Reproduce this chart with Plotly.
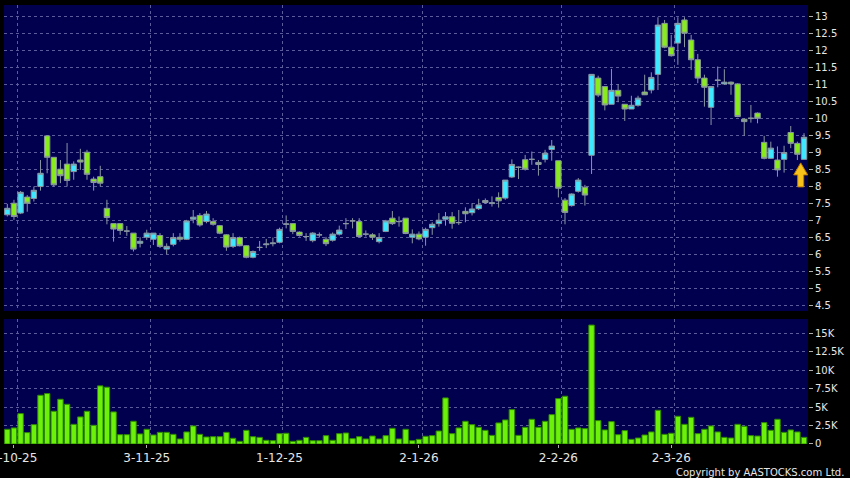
import plotly.graph_objects as go

# trading days shown on the chart (30 Sep 2025 .. 30 Mar 2026)
dates = [
    "2025-09-30",
    "2025-10-02", "2025-10-03", "2025-10-06", "2025-10-08", "2025-10-09", "2025-10-10",
    "2025-10-13", "2025-10-14", "2025-10-15", "2025-10-16", "2025-10-17", "2025-10-20",
    "2025-10-21", "2025-10-22", "2025-10-23", "2025-10-24", "2025-10-27", "2025-10-28",
    "2025-10-30", "2025-10-31",
    "2025-11-03", "2025-11-04", "2025-11-05", "2025-11-06", "2025-11-07", "2025-11-10",
    "2025-11-11", "2025-11-12", "2025-11-13", "2025-11-14", "2025-11-17", "2025-11-18",
    "2025-11-19", "2025-11-20", "2025-11-21", "2025-11-24", "2025-11-25", "2025-11-26",
    "2025-11-27", "2025-11-28",
    "2025-12-01", "2025-12-02", "2025-12-03", "2025-12-04", "2025-12-05", "2025-12-08",
    "2025-12-09", "2025-12-10", "2025-12-11", "2025-12-12", "2025-12-15", "2025-12-16",
    "2025-12-17", "2025-12-18", "2025-12-19", "2025-12-22", "2025-12-23", "2025-12-24",
    "2025-12-29", "2025-12-30", "2025-12-31",
    "2026-01-02", "2026-01-05", "2026-01-06", "2026-01-07", "2026-01-08", "2026-01-09",
    "2026-01-12", "2026-01-13", "2026-01-14", "2026-01-15", "2026-01-16", "2026-01-19",
    "2026-01-20", "2026-01-21", "2026-01-22", "2026-01-23", "2026-01-26", "2026-01-27",
    "2026-01-28", "2026-01-29", "2026-01-30",
    "2026-02-02", "2026-02-03", "2026-02-04", "2026-02-05", "2026-02-06", "2026-02-09",
    "2026-02-10", "2026-02-11", "2026-02-12", "2026-02-13", "2026-02-16", "2026-02-20",
    "2026-02-23", "2026-02-24", "2026-02-25", "2026-02-26", "2026-02-27",
    "2026-03-02", "2026-03-03", "2026-03-04", "2026-03-05", "2026-03-06", "2026-03-09",
    "2026-03-10", "2026-03-11", "2026-03-12", "2026-03-13", "2026-03-16", "2026-03-17",
    "2026-03-18", "2026-03-19", "2026-03-20", "2026-03-23", "2026-03-24", "2026-03-25",
    "2026-03-26", "2026-03-27", "2026-03-30",
]

opens = [
    7.18, 7.52, 7.23, 7.70, 7.66, 8.01, 9.50, 8.87, 8.52, 8.67, 8.45, 8.79, 9.02, 8.23, 8.30,
    7.37, 6.92, 6.92, 6.70, 6.64, 6.34, 6.52, 6.46, 6.57, 6.17, 6.31, 6.52, 6.46, 7.05, 7.16,
    6.98, 6.98, 6.86, 6.59, 6.25, 6.51, 6.27, 5.93, 6.22, 6.30, 6.33, 6.37, 6.90, 6.92, 6.67,
    6.54, 6.42, 6.59, 6.46, 6.43, 6.61, 6.92, 7.00, 6.98, 6.61, 6.59, 6.39, 6.69, 7.08, 6.98,
    7.08, 6.52, 6.61, 6.52, 6.80, 6.92, 7.05, 7.12, 6.95, 7.28, 7.24, 7.36, 7.60, 7.51, 7.69,
    7.67, 8.29, 8.57, 8.80, 8.81, 8.72, 8.81, 9.10, 8.77, 7.61, 7.45, 7.87, 7.99, 8.93, 11.20,
    10.95, 10.43, 10.84, 10.43, 10.29, 10.40, 10.79, 10.85, 11.31, 12.81, 12.11, 12.23, 12.91, 12.32, 11.74,
    11.20, 10.34, 11.13, 11.03, 11.08, 11.03, 9.99, 10.01, 10.17, 9.31, 8.84, 8.79, 8.81, 9.60, 9.28,
    8.81,
]
highs = [
    7.50, 7.62, 7.88, 7.76, 8.01, 8.79, 9.52, 8.87, 8.79, 9.29, 8.75, 9.12, 9.09, 8.30, 8.62,
    7.62, 6.92, 6.92, 6.85, 6.64, 6.52, 6.74, 6.64, 6.64, 6.34, 6.64, 6.64, 7.03, 7.32, 7.23,
    7.29, 7.08, 6.88, 6.61, 6.64, 6.54, 6.29, 6.13, 6.41, 6.47, 6.51, 6.80, 7.16, 6.93, 6.69,
    6.64, 6.67, 6.66, 6.53, 6.66, 6.86, 7.08, 7.08, 7.08, 6.72, 6.64, 6.64, 7.03, 7.29, 7.13,
    7.08, 6.75, 6.69, 6.80, 6.96, 7.23, 7.26, 7.26, 7.32, 7.40, 7.52, 7.65, 7.66, 7.72, 7.84,
    8.20, 8.81, 8.60, 8.94, 9.04, 8.79, 9.09, 9.38, 8.77, 7.67, 7.81, 8.26, 8.06, 11.31, 11.27,
    10.95, 11.47, 11.02, 10.43, 10.68, 10.68, 11.30, 11.37, 12.99, 12.91, 12.47, 12.99, 12.99, 12.47, 11.91,
    11.30, 10.95, 11.54, 11.46, 11.10, 11.05, 10.02, 10.41, 10.19, 9.50, 9.33, 9.19, 9.21, 9.79, 9.33,
    9.58,
]
lows = [
    7.13, 7.03, 7.20, 7.27, 7.57, 7.89, 8.40, 8.01, 8.11, 8.01, 8.21, 8.50, 8.21, 7.89, 8.01,
    6.90, 6.39, 6.59, 6.56, 6.10, 6.22, 6.44, 6.29, 6.20, 6.02, 6.25, 6.39, 6.44, 6.93, 6.83,
    6.93, 6.86, 6.61, 6.12, 6.20, 6.25, 5.90, 5.90, 6.12, 6.20, 6.25, 6.34, 6.78, 6.61, 6.54,
    6.41, 6.37, 6.51, 6.26, 6.39, 6.57, 6.76, 6.78, 6.51, 6.54, 6.44, 6.34, 6.67, 6.88, 6.83,
    6.61, 6.34, 6.43, 6.27, 6.59, 6.83, 6.86, 6.77, 6.88, 6.96, 7.16, 7.32, 7.50, 7.42, 7.39,
    7.62, 8.26, 8.23, 8.48, 8.65, 8.33, 8.72, 8.77, 7.69, 6.90, 7.42, 7.83, 7.45, 8.38, 10.64,
    10.25, 10.43, 10.49, 9.94, 10.29, 10.36, 10.70, 10.75, 10.85, 12.08, 11.83, 11.59, 12.11, 11.44, 11.05,
    10.36, 9.82, 10.93, 11.00, 10.71, 10.05, 9.50, 9.89, 9.87, 8.81, 8.82, 8.30, 8.42, 9.14, 8.79,
    8.81,
]
closes = [
    7.37, 7.13, 7.84, 7.52, 7.90, 8.40, 8.87, 8.06, 8.33, 8.19, 8.67, 8.73, 8.37, 8.13, 8.11,
    7.10, 6.76, 6.72, 6.70, 6.17, 6.40, 6.64, 6.64, 6.25, 6.25, 6.51, 6.46, 7.00, 7.11, 6.88,
    7.20, 6.90, 6.64, 6.23, 6.51, 6.27, 5.93, 6.10, 6.22, 6.32, 6.35, 6.75, 6.91, 6.69, 6.57,
    6.54, 6.64, 6.59, 6.33, 6.61, 6.73, 6.92, 7.00, 6.54, 6.61, 6.52, 6.51, 7.00, 6.92, 6.98,
    6.63, 6.61, 6.47, 6.75, 6.90, 7.02, 7.12, 6.93, 6.95, 7.21, 7.35, 7.47, 7.54, 7.53, 7.59,
    8.20, 8.66, 8.58, 8.52, 8.81, 8.66, 8.99, 9.20, 7.96, 7.25, 7.79, 8.20, 7.76, 11.31, 10.70,
    10.41, 10.84, 10.67, 10.29, 10.40, 10.61, 10.71, 11.22, 12.76, 12.11, 11.86, 12.81, 12.52, 11.74, 11.20,
    10.93, 10.95, 11.14, 11.08, 11.03, 10.07, 9.92, 10.02, 10.02, 8.84, 9.14, 8.50, 9.01, 9.28, 8.96,
    9.46,
]
volumes = [
    1990, 2170, 4110, 1540, 2620, 6590, 6820, 4430, 6050, 5370, 2660, 3660, 4430, 2530, 7860,
    7680, 4340, 1260, 1260, 3070, 1360, 1990, 1220, 1580, 1580, 1310, 680, 1630, 2440, 1310,
    950, 990, 990, 1580, 770, 360, 1850, 990, 900, 500, 450, 1400, 1450, 360, 500,
    900, 450, 450, 1130, 500, 1400, 1490, 720, 990, 680, 1080, 680, 1130, 2120, 680,
    1990, 450, 630, 1040, 1130, 1760, 6230, 1400, 2170, 3070, 2620, 2260, 1850, 1170, 2850,
    3250, 4650, 1170, 2260, 3340, 2260, 3070, 3970, 6140, 6460, 1990, 2170, 2080, 16080, 3160,
    1900, 3030, 1260, 1810, 630, 810, 1220, 1630, 4560, 1310, 1450, 3750, 2660, 3610, 1400,
    1990, 2440, 1630, 900, 810, 2660, 2390, 1130, 1080, 2890, 1850, 3340, 1580, 1900, 1630,
    900,
]

tick_dates = ["2025-10-02", "2025-11-03", "2025-12-01", "2026-01-02", "2026-02-02", "2026-03-02"]
tick_text = ["2-10-25", "3-11-25", "1-12-25", "2-1-26", "2-2-26", "2-3-26"]
price_ticks = [4.5, 5, 5.5, 6, 6.5, 7, 7.5, 8, 8.5, 9, 9.5, 10, 10.5, 11, 11.5, 12, 12.5, 13]
vol_ticks = [0, 2500, 5000, 7500, 10000, 12500, 15000]
vol_text = ["0", "2.5K", "5K", "7.5K", "10K", "12.5K", "15K"]

NAVY = "#00004e"
GRID = "#5c5c9c"
TXT = "#e6e6e6"
CYAN = "#3ee8ff"
GREEN = "#88ec1c"

idx = list(range(len(dates)))
tick_pos = [dates.index(d) for d in tick_dates]
grid_pos = [p + 0.5 for p in tick_pos]
xr = [-0.5, len(dates) - 0.4]

fig = go.Figure()
fig.add_trace(go.Candlestick(
    x=idx, open=opens, high=highs, low=lows, close=closes,
    increasing=dict(fillcolor=CYAN, line=dict(color="#8a96a0", width=1)),
    decreasing=dict(fillcolor=GREEN, line=dict(color="#8a96a0", width=1)),
    whiskerwidth=0, xaxis="x", yaxis="y", hoverinfo="skip", showlegend=False))
fig.add_trace(go.Bar(
    x=idx, y=volumes, marker=dict(color="#6cf20a", line=dict(color="#2f8a00", width=1)),
    xaxis="x2", yaxis="y2", hoverinfo="skip", showlegend=False))

xgrid = dict(tickmode="array", tickvals=grid_pos, showgrid=True, gridcolor=GRID,
             griddash="3px,3px", gridwidth=1, ticks="")
fig.update_layout(
    width=850, height=478, template="none",
    paper_bgcolor="black", plot_bgcolor=NAVY,
    margin=dict(l=4, r=42, t=5, b=34),
    font=dict(family="DejaVu Sans", color=TXT, size=10),
    bargap=0.18, boxgap=0.1, boxgroupgap=0.1,
    xaxis=dict(domain=[0, 1], anchor="y", range=xr, showticklabels=False, showgrid=False,
               zeroline=False, rangeslider=dict(visible=False), minor=xgrid, automargin=False),
    yaxis=dict(domain=[0.303, 1], anchor="x", side="right", range=[4.35, 13.35],
               tickvals=price_ticks, ticktext=[f"{v:g}" for v in price_ticks],
               ticks="outside", ticklen=4, tickcolor="#b0b0b0", showgrid=True, gridcolor=GRID,
               griddash="3px,3px", zeroline=False, automargin=False),
    xaxis2=dict(domain=[0, 1], anchor="y2", range=xr, matches="x", showgrid=False,
                tickvals=tick_pos, ticktext=tick_text, ticks="outside", ticklen=3,
                tickcolor="#b0b0b0", tickfont=dict(size=12), zeroline=False, minor=xgrid,
                ticklabeloverflow="allow", automargin=False),
    yaxis2=dict(domain=[0, 0.2847], anchor="x2", side="right", range=[0, 16900],
                tickvals=vol_ticks, ticktext=vol_text, ticks="outside", ticklen=4,
                tickcolor="#b0b0b0", showgrid=True, gridcolor=GRID, griddash="3px,3px",
                zeroline=False, automargin=False),
)

# yellow arrow marking the latest session
fig.add_shape(type="path", xref="x", yref="y", xsizemode="pixel", ysizemode="pixel",
              xanchor=idx[-1] - 0.5, yanchor=8.0,
              path="M -3 0 L 3 0 L 3 12 L 7 12 L 0 24 L -7 12 L -3 12 Z",
              fillcolor="#f7c21a", line=dict(color="#c07a00", width=1))

fig.add_annotation(text="Copyright by AASTOCKS.com Ltd.", xref="paper", yref="paper",
                   x=1.047, y=-0.064, xanchor="right", yanchor="middle", showarrow=False,
                   font=dict(size=10, color=TXT))

# drop the browser's default page margin so the chart sits at the top-left corner
fig.write_html("out.html", config={"displayModeBar": False},
               post_script="document.body.style.margin='0px';")
